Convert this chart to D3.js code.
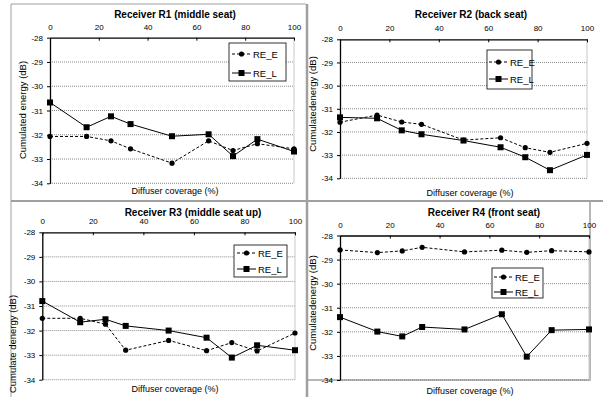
<!DOCTYPE html>
<meta charset="utf-8">
<script src="https://d3js.org/d3.v7.min.js"></script>
<style>
  body { margin: 0; background: #fff; }
  text { font-family: "Liberation Sans", Arial, sans-serif; fill: #000; }
</style>
<body>
<div id="chart"></div>
<script>

// diffuser coverage (%) - same for every receiver
var coverage = [0, 15, 25, 33, 50, 65, 75, 85, 100];

var r1E = [-32.07, -32.07, -32.25, -32.58, -33.17, -32.25, -32.65, -32.37, -32.58];
var r1L = [-30.67, -31.69, -31.24, -31.56, -32.06, -31.98, -32.88, -32.18, -32.69];

var r2E = [-31.58, -31.27, -31.57, -31.67, -32.35, -32.25, -32.68, -32.88, -32.49];
var r2L = [-31.37, -31.41, -31.93, -32.10, -32.37, -32.66, -33.09, -33.65, -32.99];

var r3E = [-31.50, -31.50, -31.74, -32.80, -32.40, -32.82, -32.49, -32.83, -32.10];
var r3L = [-30.80, -31.66, -31.54, -31.81, -32.00, -32.29, -33.10, -32.60, -32.80];

var r4E = [-28.60, -28.71, -28.64, -28.49, -28.68, -28.61, -28.70, -28.63, -28.68];
var r4L = [-31.39, -31.99, -32.19, -31.80, -31.90, -31.27, -33.03, -31.93, -31.90];

var xTicks = [0, 20, 40, 60, 80, 100];
var yTicks = [-28, -29, -30, -31, -32, -33, -34];
var seriesNames = ["RE_E", "RE_L"];

var titles = ["Receiver  R1 (middle seat)", "Receiver R2 (back seat)",
              "Receiver R3 (middle seat up)", "Receiver  R4 (front seat)"];
var yTitles = ["Cumulated energy (dB)", "Cumulatedenergy (dB)",
               "Cumulate denergy (dB)", "Cumulatedenergy (dB)"];
var xTitle = "Diffuser coverage (%)";

var W = 603, H = 397;

var svg = d3.select("#chart").append("svg")
    .attr("width", W)
    .attr("height", H);

// panel frames (grey picture borders)
var frame = svg.append("g").attr("stroke", "#a0a0a0").attr("fill", "none");
frame.append("path").attr("d", "M11,397 L11,4 L306,4").attr("stroke-width", 1);
frame.append("line").attr("x1", 307).attr("x2", 307).attr("y1", 4).attr("y2", 397).attr("stroke-width", 2.5);
frame.append("line").attr("x1", 11).attr("x2", 603).attr("y1", 201).attr("y2", 201).attr("stroke-width", 2);
frame.append("path").attr("d", "M307,380 L590,380 L590,201").attr("stroke-width", 1.5);

// layout of each panel
var panels = [
  { E: r1E, L: r1L, x0: 50, x1: 294, y0: 37.7, y1: 183.3, tx: 175, ty: 18, xtx: 175, xty: 194, ylx: 26, yly: 110,
    leg: [229, 43, 57, 38], legY: [54, 73], legX: 232 },
  { E: r2E, L: r2L, x0: 340, x1: 587, y0: 39.3, y1: 178.3, tx: 471, ty: 18, xtx: 470, xty: 196, ylx: 316, yly: 104,
    leg: [487, 50, 45, 39], legY: [62, 79], legX: 489 },
  { E: r3E, L: r3L, x0: 42.3, x1: 295, y0: 232.3, y1: 379.7, tx: 193, ty: 216, xtx: 175, xty: 392, ylx: 16, yly: 344,
    leg: [234, 245, 53, 32], legY: [253, 269], legX: 237 },
  { E: r4E, L: r4L, x0: 340, x1: 589, y0: 235.5, y1: 380, tx: 484, ty: 216, xtx: 470, xty: 394, ylx: 316, yly: 303,
    leg: [492, 268, 51, 30], legY: [277, 292], legX: 494 }
];

panels.forEach(function(p, i) {
  var g = svg.append("g");

  var x = d3.scaleLinear().domain([0, 100]).range([p.x0, p.x1]);
  var y = d3.scaleLinear().domain([-28, -34]).range([p.y0, p.y1]);

  // dotted grid lines
  g.append("g").selectAll("line")
    .data(yTicks.slice(1))
    .enter().append("line")
      .attr("x1", p.x0).attr("x2", p.x1)
      .attr("y1", function(d) { return y(d); })
      .attr("y2", function(d) { return y(d); })
      .attr("stroke", "#8a8a8a")
      .attr("stroke-width", 1)
      .attr("stroke-dasharray", "1,1");

  // light plot-area right edge
  g.append("line")
    .attr("x1", p.x1).attr("x2", p.x1).attr("y1", p.y0).attr("y2", p.y1)
    .attr("stroke", "#c8c8c8");

  // top axis
  var top = g.append("g")
    .attr("transform", "translate(0," + p.y0 + ")")
    .call(d3.axisTop(x).tickValues(xTicks).tickSizeInner(-3).tickSizeOuter(0).tickPadding(8));
  // left axis
  var left = g.append("g")
    .attr("transform", "translate(" + p.x0 + ",0)")
    .call(d3.axisLeft(y).tickValues(yTicks).tickFormat(function(d) { return String(d); })
      .tickSizeInner(3).tickSizeOuter(0).tickPadding(4));

  [top, left].forEach(function(a) {
    a.select(".domain").attr("stroke", "#000").attr("stroke-width", 1.3);
    a.selectAll(".tick line").attr("stroke", "#000");
    a.selectAll("text").attr("font-size", 8).attr("font-family", "Liberation Sans, Arial, sans-serif");
  });

  // title
  g.append("text")
    .attr("x", p.tx).attr("y", p.ty)
    .attr("text-anchor", "middle")
    .attr("font-size", 10)
    .attr("font-weight", "bold")
    .text(titles[i]);

  // axis titles
  g.append("text")
    .attr("x", p.xtx).attr("y", p.xty)
    .attr("text-anchor", "middle")
    .attr("font-size", 9)
    .text(xTitle);

  g.append("text")
    .attr("transform", "translate(" + p.ylx + "," + p.yly + ") rotate(-90)")
    .attr("text-anchor", "middle")
    .attr("font-size", 9.5)
    .text(yTitles[i]);

  var line = d3.line()
    .x(function(d, k) { return x(coverage[k]); })
    .y(function(d) { return y(d); });

  // RE_E: dashed with dots
  g.append("path")
    .datum(p.E)
    .attr("d", line)
    .attr("fill", "none")
    .attr("stroke", "#000")
    .attr("stroke-width", 1)
    .attr("stroke-dasharray", "3,2");
  g.append("g").selectAll("circle")
    .data(p.E)
    .enter().append("circle")
      .attr("cx", function(d, k) { return x(coverage[k]); })
      .attr("cy", function(d) { return y(d); })
      .attr("r", 2.6)
      .attr("fill", "#000");

  // RE_L: solid with squares
  g.append("path")
    .datum(p.L)
    .attr("d", line)
    .attr("fill", "none")
    .attr("stroke", "#000")
    .attr("stroke-width", 1);
  g.append("g").selectAll("rect")
    .data(p.L)
    .enter().append("rect")
      .attr("x", function(d, k) { return x(coverage[k]) - 3; })
      .attr("y", function(d) { return y(d) - 3; })
      .attr("width", 6).attr("height", 6)
      .attr("fill", "#000");

  // legend
  var lg = g.append("g");
  lg.append("rect")
    .attr("x", p.leg[0]).attr("y", p.leg[1])
    .attr("width", p.leg[2]).attr("height", p.leg[3])
    .attr("fill", "#fff").attr("stroke", "#000").attr("stroke-width", 0.8);
  seriesNames.forEach(function(name, k) {
    var ly = p.legY[k];
    lg.append("line")
      .attr("x1", p.legX).attr("x2", p.legX + 19)
      .attr("y1", ly).attr("y2", ly)
      .attr("stroke", "#000")
      .attr("stroke-dasharray", k == 0 ? "3,2" : null);
    if (k == 0) {
      lg.append("circle").attr("cx", p.legX + 9.5).attr("cy", ly).attr("r", 2.6).attr("fill", "#000");
    } else {
      lg.append("rect").attr("x", p.legX + 6.5).attr("y", ly - 3).attr("width", 6).attr("height", 6).attr("fill", "#000");
    }
    lg.append("text")
      .attr("x", p.legX + 21).attr("y", ly + 3.5)
      .attr("font-size", 9.5)
      .text(name);
  });
});

</script>
</body>
